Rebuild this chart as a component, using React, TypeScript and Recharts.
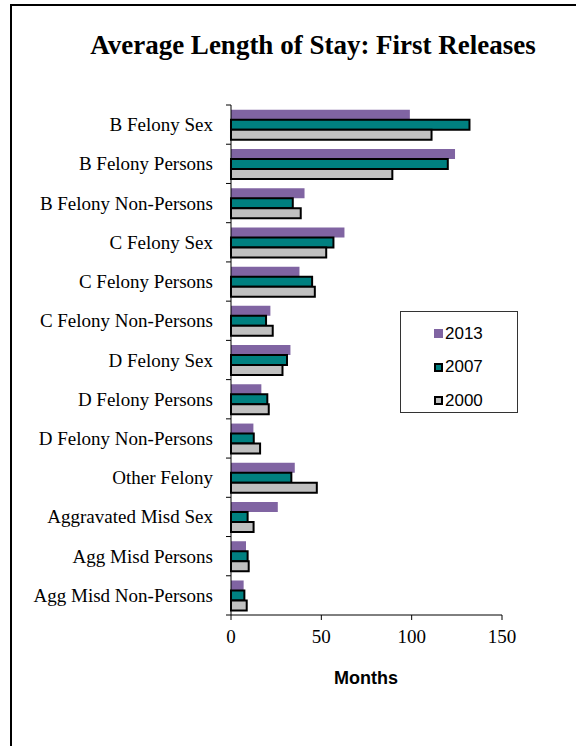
import React from 'react'
import { BarChart, Bar, XAxis, YAxis } from 'recharts'

const categories = [
  'B Felony Sex',
  'B Felony Persons',
  'B Felony Non-Persons',
  'C Felony Sex',
  'C Felony Persons',
  'C Felony Non-Persons',
  'D Felony Sex',
  'D Felony Persons',
  'D Felony Non-Persons',
  'Other Felony',
  'Aggravated Misd Sex',
  'Agg Misd Persons',
  'Agg Misd Non-Persons',
]
const y2013 = [99, 124, 40.7, 62.8, 37.9, 21.8, 32.9, 16.8, 12.4, 35.3, 25.9, 8.3, 7.0]
const y2007 = [132, 120, 34.2, 56.7, 44.9, 19.4, 31.0, 20.1, 12.6, 33.4, 9.2, 9.2, 7.4]
const y2000 = [111, 89.3, 38.6, 52.7, 46.4, 23.1, 28.5, 20.9, 16.1, 47.5, 12.5, 9.8, 8.7]
const xTicks = [0, 50, 100, 150]

const data = categories.map((name, i) => ({ name, y2013: y2013[i], y2007: y2007[i], y2000: y2000[i] }))

const W = 576
const H = 746
const PLOT_LEFT = 231
const PLOT_TOP = 105
const PLOT_BOTTOM = 615
const BAND = (PLOT_BOTTOM - PLOT_TOP) / categories.length

const serif = '"Liberation Serif", "Times New Roman", serif'
const sans = '"Liberation Sans", Arial, sans-serif'

const series = [
  { key: 'y2013', label: '2013', color: '#8064A2', stroke: 'none' },
  { key: 'y2007', label: '2007', color: '#008080', stroke: '#000' },
  { key: 'y2000', label: '2000', color: '#C0C0C0', stroke: '#000' },
]

// labels sit mid-band, tick marks on the band edges (Excel style)
function CatTick(props: any) {
  const { y, payload, index } = props
  const top = y - BAND / 2
  const last = index === categories.length - 1
  return (
    <g>
      <line x1={PLOT_LEFT - 5} x2={PLOT_LEFT} y1={top} y2={top} stroke="#000" />
      {last && <line x1={PLOT_LEFT - 5} x2={PLOT_LEFT} y1={y + BAND / 2} y2={y + BAND / 2} stroke="#000" />}
      <text x={PLOT_LEFT - 18} y={y} textAnchor="end" dominantBaseline="central" fontFamily={serif} fontSize={19} fill="#000">
        {payload.value}
      </text>
    </g>
  )
}

export default function App() {
  return (
    <div style={{ position: 'absolute', left: 0, top: 0, width: W, height: H, overflow: 'hidden', background: '#fff' }}>
      <div style={{ position: 'absolute', left: 10, top: 4, width: W - 10, height: H - 4, borderLeft: '2px solid #000', borderTop: '2px solid #000', boxSizing: 'border-box' }} />
      <div style={{ position: 'absolute', left: 0, top: 30, width: 626, textAlign: 'center', fontFamily: serif, fontWeight: 'bold', fontSize: 27, color: '#000' }}>
        Average Length of Stay: First Releases
      </div>
      <div style={{ position: 'absolute', left: 0, top: 0 }}>
        <BarChart
          width={W}
          height={H}
          data={data}
          layout="vertical"
          margin={{ top: PLOT_TOP, right: W - 502, bottom: H - PLOT_BOTTOM - 40, left: 0 }}
          barCategoryGap="12%"
          barGap={0}
        >
          <XAxis
            type="number"
            domain={[0, 150]}
            ticks={xTicks}
            height={40}
            axisLine={{ stroke: '#000' }}
            tickLine={{ stroke: '#000' }}
            tickSize={5}
            tickMargin={10}
            tick={{ fontFamily: serif, fontSize: 19, fill: '#000' }}
          />
          <YAxis
            type="category"
            dataKey="name"
            width={PLOT_LEFT}
            axisLine={{ stroke: '#000' }}
            tickLine={false}
            interval={0}
            tick={<CatTick />}
          />
          {series.map(s => (
            <Bar
              key={s.key}
              dataKey={s.key}
              fill={s.color}
              stroke={s.stroke}
              strokeWidth={2}
              isAnimationActive={false}
            />
          ))}
        </BarChart>
      </div>
      <div style={{ position: 'absolute', left: 300, top: 668, width: 132, textAlign: 'center', fontFamily: sans, fontWeight: 'bold', fontSize: 18, color: '#000' }}>
        Months
      </div>
      <div style={{ position: 'absolute', left: 400, top: 311, width: 118, height: 102, border: '1px solid #333', boxSizing: 'border-box', background: '#fff', paddingTop: 5 }}>
        {series.map(s => (
          <div key={s.key} style={{ display: 'flex', alignItems: 'center', height: 33.5, paddingLeft: 33, fontFamily: sans, fontSize: 17, color: '#000' }}>
            <span style={{ display: 'inline-block', width: 9, height: 9, background: s.color, border: s.stroke === 'none' ? 'none' : '2px solid #000', boxSizing: 'border-box', marginRight: 2 }} />
            {s.label}
          </div>
        ))}
      </div>
    </div>
  )
}
